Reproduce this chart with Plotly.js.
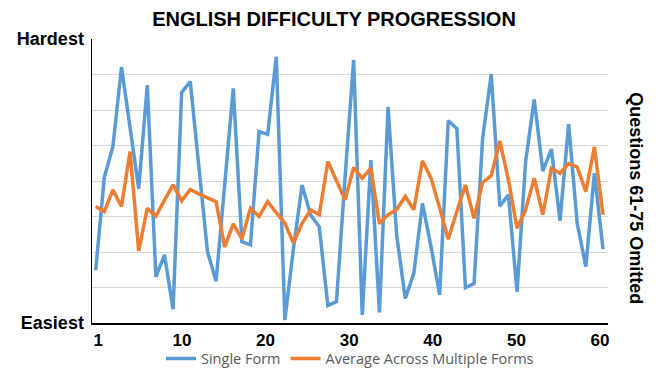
<!DOCTYPE html>
<html>
<head>
<meta charset="utf-8">
<script src="https://cdn.plot.ly/plotly-3.0.1.min.js"></script>
<style>html,body{margin:0;padding:0;background:#fff;}#chart{width:668px;height:374px;}</style>
</head>
<body>
<div id="chart"></div>
<script>
const questions = Array.from({length: 60}, (_, i) => i + 1);
const singleForm = [1.49, 4.10, 4.97, 7.21, 5.50, 3.78, 6.70, 1.30, 1.92, 0.39,
  6.50, 6.80, 4.40, 2.01, 1.18, 3.90, 6.61, 2.29, 2.20, 5.39,
  5.31, 7.50, 0.08, 2.10, 3.89, 3.04, 2.71, 0.49, 0.60, 4.10,
  7.41, 0.23, 4.59, 0.30, 6.09, 2.48, 0.69, 1.40, 3.37, 2.15,
  0.79, 5.70, 5.48, 0.99, 1.11, 5.20, 7.01, 3.29, 3.61, 0.88,
  4.55, 6.30, 4.28, 4.90, 2.88, 5.60, 2.80, 1.59, 4.22, 2.08];
const averageForms = [3.28, 3.14, 3.75, 3.28, 4.83, 2.03, 3.23, 3.01, 3.46, 3.89,
  3.44, 3.76, 3.64, 3.52, 3.42, 2.14, 2.79, 2.37, 3.23, 3.00,
  3.42, 3.11, 2.81, 2.25, 2.81, 3.19, 3.05, 4.55, 4.03, 3.47,
  4.38, 4.08, 4.36, 2.80, 3.05, 3.19, 3.57, 3.19, 4.57, 4.08,
  3.25, 2.36, 3.14, 3.89, 2.95, 3.96, 4.15, 5.13, 4.03, 2.67,
  3.19, 4.08, 3.05, 4.36, 4.22, 4.49, 4.39, 3.70, 4.96, 3.05];
const xTickLabels = ['1', '10', '20', '30', '40', '50', '60'];
const yLevels = [0, 1, 2, 3, 4, 5, 6, 7, 8];
const yLevelLabels = ['Easiest', '', '', '', '', '', '', '', 'Hardest'];
const seriesNames = ['Single Form', 'Average Across Multiple Forms'];
const titleText = 'ENGLISH DIFFICULTY PROGRESSION';
const sideNote = 'Questions 61-75 Omitted';

// tick labels in the source are spread evenly between the first and last question
const firstLab = 1.3, lastLab = 59.65;
const xTickVals = xTickLabels.map((_, k) => firstLab + k * (lastLab - firstLab) / (xTickLabels.length - 1));

const fam = '"Liberation Sans", Arial, sans-serif';
const boldFont = {family: fam, color: '#000', size: 18, weight: 700};

const traces = [
  {x: questions, y: singleForm, name: seriesNames[0], type: 'scatter', mode: 'lines',
   line: {color: '#5B9BD5', width: 3.5}},
  {x: questions, y: averageForms, name: seriesNames[1], type: 'scatter', mode: 'lines',
   line: {color: '#ED7D31', width: 3.5}}
];

const layout = {
  width: 668, height: 374,
  margin: {l: 92, r: 60, t: 39, b: 51, autoexpand: false},
  paper_bgcolor: '#fff', plot_bgcolor: '#fff',
  title: {text: '<b>' + titleText + '</b>', x: 0.5, xanchor: 'center', y: 0.95, yanchor: 'middle',
          font: {family: fam, color: '#000', size: 20, weight: 700}},
  xaxis: {range: [0.57, 60.58], tickvals: xTickVals, ticktext: xTickLabels, automargin: false,
          showgrid: false, zeroline: false, showline: true, linecolor: '#000', linewidth: 1.5,
          ticks: 'outside', ticklen: 1, tickcolor: 'rgba(0,0,0,0)',
          tickfont: {family: fam, color: '#000', size: 17, weight: 700}, fixedrange: true},
  yaxis: {range: [0, 8.001], tickvals: yLevels, ticktext: yLevelLabels, automargin: false,
          showgrid: true, gridcolor: '#d9d9d9', gridwidth: 1, zeroline: false,
          showline: true, linecolor: '#000', linewidth: 1.5,
          ticks: 'outside', ticklen: 3, tickcolor: 'rgba(0,0,0,0)',
          tickfont: boldFont, fixedrange: true},
  showlegend: true,
  legend: {orientation: 'h', x: 0.5, xanchor: 'center', y: -0.125, yanchor: 'middle',
           bgcolor: 'rgba(0,0,0,0)', borderwidth: 0,
           font: {family: '"Open Sans", "Noto Sans", sans-serif', size: 14.5, color: '#595959'},
           itemwidth: 30, tracegroupgap: 0},
  annotations: [{text: '<b>' + sideNote + '</b>', xref: 'paper', yref: 'paper', x: 1.054, y: 0.44,
                 xanchor: 'center', yanchor: 'middle', textangle: 90, showarrow: false,
                 font: boldFont}]
};

Plotly.newPlot('chart', traces, layout, {displayModeBar: false, staticPlot: true});
</script>
</body>
</html>
